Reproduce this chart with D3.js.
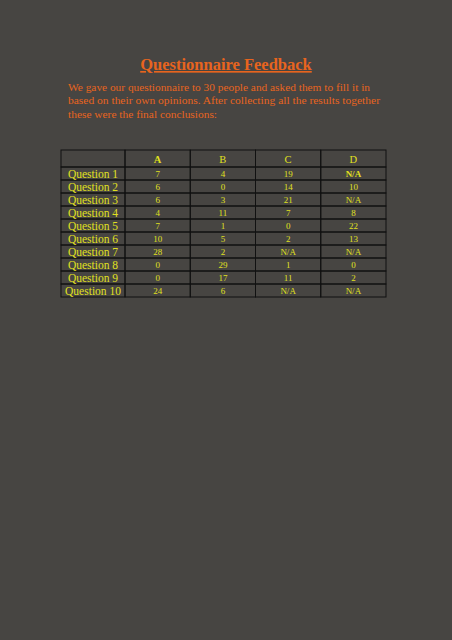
<!DOCTYPE html><html><head><meta charset="utf-8"><script src="https://cdn.jsdelivr.net/npm/d3@7"></script>
<style>body{margin:0;background:#474542}</style></head><body><svg id="c" width="452" height="640"></svg>
<script>
const columns=["A","B","C","D"];
const questions=["Question 1","Question 2","Question 3","Question 4","Question 5","Question 6","Question 7","Question 8","Question 9","Question 10"];
const colA=["7","6","6","4","7","10","28","0","0","24"];
const colB=["4","0","3","11","1","5","2","29","17","6"];
const colC=["19","14","21","7","0","2","N/A","1","11","N/A"];
const colD=["N/A","10","N/A","8","22","13","N/A","0","2","N/A"];
const cols=[colA,colB,colC,colD];
const svg=d3.select("#c");
svg.append("rect").attr("width",452).attr("height",640).attr("fill","#474542");
const orange="#e8641e", yel="#e0e020";
svg.append("text").attr("x",226).attr("y",70).attr("text-anchor","middle").attr("font-family","Liberation Serif").attr("font-weight","bold").attr("font-size",16.5).attr("fill",orange).attr("text-decoration","underline").text("Questionnaire Feedback");
const lens=[302,312,149];
["We gave our questionnaire to 30 people and asked them to fill it in","based on their own opinions. After collecting all the results together","these were the final conclusions:"].forEach((t,i)=>
svg.append("text").attr("x",68).attr("y",91+i*13.3).attr("font-family","Liberation Serif").attr("font-size",11.2).attr("textLength",lens[i]).attr("lengthAdjust","spacingAndGlyphs").attr("fill",orange).text(t));
const xs=d3.scaleLinear().domain([0,1,5]).range([61,125,386]);
const rowsAll=["h",...questions];
const y=d3.scaleLinear().domain([0,1,11]).range([150,167,297]);
const g=svg.append("g");
rowsAll.forEach((r,j)=>{for(let c=0;c<5;c++){g.append("rect").attr("x",xs(c)).attr("y",y(j)).attr("width",xs(c+1)-xs(c)).attr("height",y(j+1)-y(j)).attr("fill","none").attr("stroke","#111").attr("stroke-width",1);}});
columns.forEach((c,i)=>g.append("text").attr("x",(xs(i+1)+xs(i+2))/2).attr("y",(y(0)+y(1))/2+4).attr("text-anchor","middle").attr("font-family","Liberation Serif").attr("font-weight",i==0?"bold":"normal").attr("font-size",10.5).attr("fill",yel).text(c));
questions.forEach((q,j)=>{
 const cy=(y(j+1)+y(j+2))/2;
 g.append("text").attr("x",xs(0)+(xs(1)-xs(0))/2).attr("y",cy+4).attr("text-anchor","middle").attr("font-family","Liberation Serif").attr("font-size",11.5).attr("fill",yel).text(q);
 cols.forEach((col,i)=>g.append("text").attr("x",(xs(i+1)+xs(i+2))/2).attr("y",cy+3.2).attr("text-anchor","middle").attr("font-family","Liberation Serif").attr("font-weight",(i==3&&j==0)?"bold":"normal").attr("font-size",9).attr("fill",yel).text(col[j]));
});
</script></body></html>
